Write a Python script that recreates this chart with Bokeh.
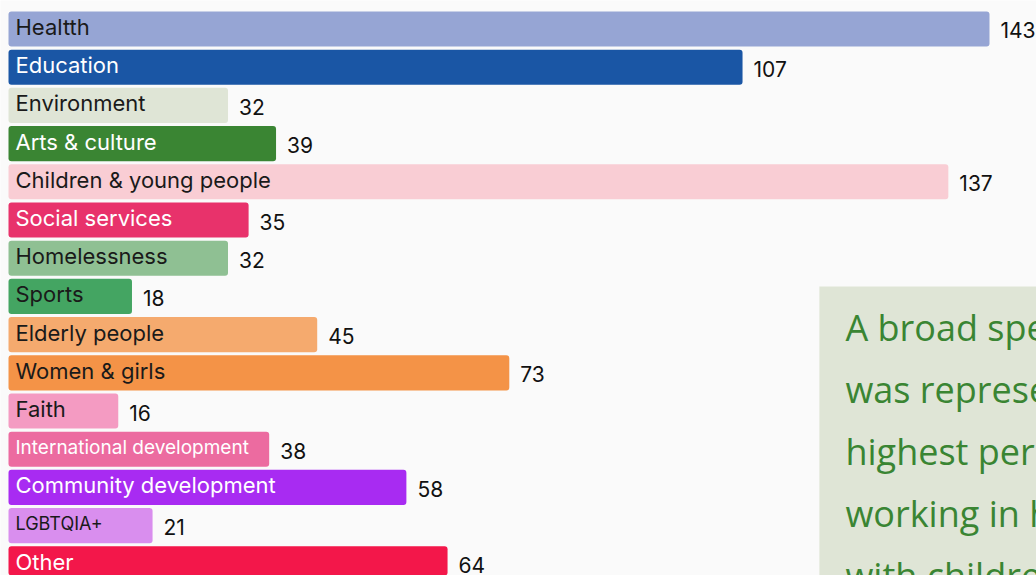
from bokeh.plotting import figure
from bokeh.models import ColumnDataSource, Range1d, BoxAnnotation, Label
from bokeh.core.properties import value
from bokeh.embed import file_html
from bokeh.resources import INLINE

categories = ["Healtth", "Education", "Environment", "Arts & culture",
              "Children & young people", "Social services", "Homelessness",
              "Sports", "Elderly people", "Women & girls", "Faith",
              "International development", "Community development",
              "LGBTQIA+", "Other"]
counts = [143, 107, 32, 39, 137, 35, 32, 18, 45, 73, 16, 38, 58, 21, 64]
bar_colors = ["#96a5d4", "#1a56a5", "#dfe5d6", "#3a8533", "#f9cdd4",
              "#e8326b", "#8fc093", "#44a562", "#f5aa6e", "#f49347",
              "#f49bc2", "#ec6ba0", "#a82bf2", "#d98eee", "#f3174a"]
label_colors = ["#1a1a1a", "white", "#1a1a1a", "white", "#1a1a1a",
                "white", "#1a1a1a", "#1a1a1a", "#1a1a1a", "#1a1a1a",
                "#1a1a1a", "white", "white", "#1a1a1a", "white"]
label_sizes = ["22px"] * 15
label_sizes[11] = "19px"
label_sizes[13] = "18px"

note_lines = ["A broad spectrum of causes",
              "was represented, with the",
              "highest percentage of leaders",
              "working in health, education,",
              "with children and young people."]

src = ColumnDataSource(dict(
    idx=list(range(len(categories))),
    cat=categories,
    val=counts,
    vlabel=[str(v) for v in counts],
    color=bar_colors,
    tcolor=label_colors,
    fsize=label_sizes,
))

p = figure(width=1036, height=575,
           x_range=Range1d(-1.166, 149.85), y_range=Range1d(14.306, -0.746),
           x_axis_type=None, y_axis_type=None,
           output_backend="svg", toolbar_location=None, min_border=0,
           background_fill_color="#fafafa", border_fill_color="#fafafa",
           outline_line_color=None)
p.grid.visible = False

p.hbar(y="idx", left=0, right="val", height=0.92, fill_color="color",
       line_color=None, border_radius=3, source=src)

p.text(x=0, y="idx", text="cat", text_color="tcolor",
       text_font=value("Inter"), text_font_size="fsize",
       x_offset=7, y_offset=-2, text_baseline="middle", source=src)

p.text(x="val", y="idx", text="vlabel", text_color="#111111",
       text_font=value("Inter"), text_font_size="21px",
       x_offset=11, y_offset=1.5, text_baseline="middle", source=src)

box = BoxAnnotation(left=118.2, right=200, top=6.74, bottom=20,
                    fill_color="#dfe5d6", fill_alpha=1.0, line_color=None)
p.add_layout(box)

for i, line in enumerate(note_lines):
    p.add_layout(Label(x=122.0, y=7.81 + i * 1.623, text=line,
                       text_font="Open Sans", text_font_size="36px",
                       text_color="#3a8533", text_baseline="alphabetic"))

open("out.html", "w").write(file_html(p, INLINE))
